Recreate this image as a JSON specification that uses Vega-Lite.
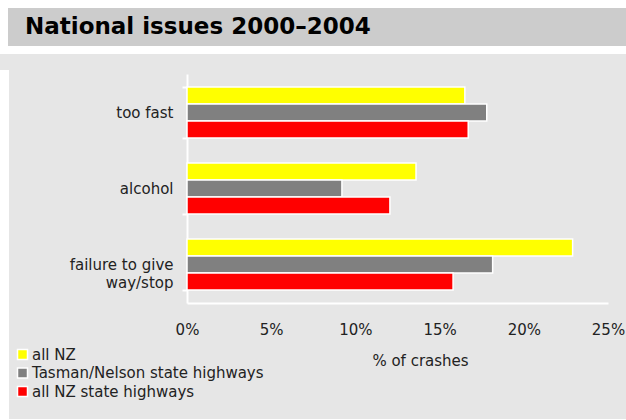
{
  "$schema": "https://vega.github.io/schema/vega-lite/v6.json",
  "background": "#e6e6e6",
  "padding": {"left": 0, "top": 0, "right": -8, "bottom": 0},
  "config": {
    "font": "DejaVu Sans",
    "view": {"stroke": null}
  },
  "spacing": 13,
  "resolve": {
    "scale": {"x": "independent", "y": "independent", "color": "independent"},
    "legend": {"color": "independent"}
  },
  "datasets": {
    "heading": [{"text": "National issues 2000–2004"}],
    "crashes": [
      {"issue": "too fast", "series": "all NZ", "pct": 16.5},
      {"issue": "too fast", "series": "Tasman/Nelson state highways", "pct": 17.8},
      {"issue": "too fast", "series": "all NZ state highways", "pct": 16.7},
      {"issue": "alcohol", "series": "all NZ", "pct": 13.6},
      {"issue": "alcohol", "series": "Tasman/Nelson state highways", "pct": 9.2},
      {"issue": "alcohol", "series": "all NZ state highways", "pct": 12.05},
      {"issue": "failure to give way/stop", "series": "all NZ", "pct": 22.9},
      {"issue": "failure to give way/stop", "series": "Tasman/Nelson state highways", "pct": 18.15},
      {"issue": "failure to give way/stop", "series": "all NZ state highways", "pct": 15.8}
    ]
  },
  "vconcat": [
    {
      "width": 626,
      "height": 46,
      "view": {"fill": "#cccccc", "stroke": "#ffffff", "strokeWidth": 8},
      "data": {"name": "heading"},
      "mark": {
        "type": "text",
        "align": "left",
        "baseline": "middle",
        "dx": 21,
        "fontSize": 23,
        "fontWeight": "bold",
        "color": "#000000"
      },
      "encoding": {
        "text": {"field": "text"},
        "x": {"datum": 0, "type": "quantitative", "scale": {"domain": [0, 1]}, "axis": null}
      }
    },
    {
      "spacing": 0,
      "resolve": {
        "scale": {"x": "independent", "y": "independent", "color": "independent"},
        "legend": {"color": "independent"}
      },
      "hconcat": [
        {
          "width": 1,
          "height": 341,
          "view": {"fill": "#ffffff", "stroke": "#ffffff", "strokeWidth": 8},
          "data": {"values": []},
          "mark": {"type": "text"}
        },
        {
          "width": 421,
          "height": 229,
          "data": {"name": "crashes"},
          "mark": {"type": "bar", "stroke": "#ffffff", "strokeWidth": 1.5},
          "encoding": {
            "y": {
              "field": "issue",
              "type": "nominal",
              "sort": ["too fast", "alcohol", "failure to give way/stop"],
              "scale": {"paddingInner": 0.33, "paddingOuter": 0.17},
              "axis": {
                "title": null,
                "domainColor": "#ffffff",
                "domainWidth": 2,
                "tickColor": "#ffffff",
                "tickWidth": 2,
                "tickSize": 5,
                "tickBand": "extent",
                "labelFontSize": 15,
                "labelColor": "#222222",
                "labelPadding": 9,
                "labelLineHeight": 18,
                "labelExpr": "datum.label == 'failure to give way/stop' ? ['failure to give', 'way/stop'] : datum.label"
              }
            },
            "yOffset": {
              "field": "series",
              "type": "nominal",
              "sort": ["all NZ", "Tasman/Nelson state highways", "all NZ state highways"]
            },
            "x": {
              "field": "pct",
              "type": "quantitative",
              "scale": {"domain": [0, 25], "nice": false},
              "axis": {
                "title": "% of crashes",
                "titleFontSize": 15,
                "titleFontWeight": "normal",
                "titleColor": "#222222",
                "titleX": 233,
                "titlePadding": 16,
                "values": [0, 5, 10, 15, 20, 25],
                "labelExpr": "datum.value + '%'",
                "labelFontSize": 15,
                "labelColor": "#222222",
                "labelPadding": 19,
                "labelFlush": false,
                "ticks": false,
                "grid": false,
                "domainColor": "#ffffff",
                "domainWidth": 2
              }
            },
            "color": {
              "field": "series",
              "type": "nominal",
              "sort": ["all NZ", "Tasman/Nelson state highways", "all NZ state highways"],
              "scale": {
                "domain": ["all NZ", "Tasman/Nelson state highways", "all NZ state highways"],
                "range": ["#ffff00", "#808080", "#ff0000"]
              },
              "legend": {
                "title": null,
                "orient": "none",
                "legendX": -178,
                "legendY": 267,
                "padding": 6,
                "symbolType": "square",
                "symbolSize": 100,
                "symbolStrokeColor": "#ffffff",
                "symbolStrokeWidth": 1.5,
                "symbolOpacity": 1,
                "labelFontSize": 15,
                "labelLimit": 400,
                "labelColor": "#222222",
                "labelOffset": 2,
                "rowPadding": 1.5
              }
            }
          }
        }
      ]
    }
  ]
}
